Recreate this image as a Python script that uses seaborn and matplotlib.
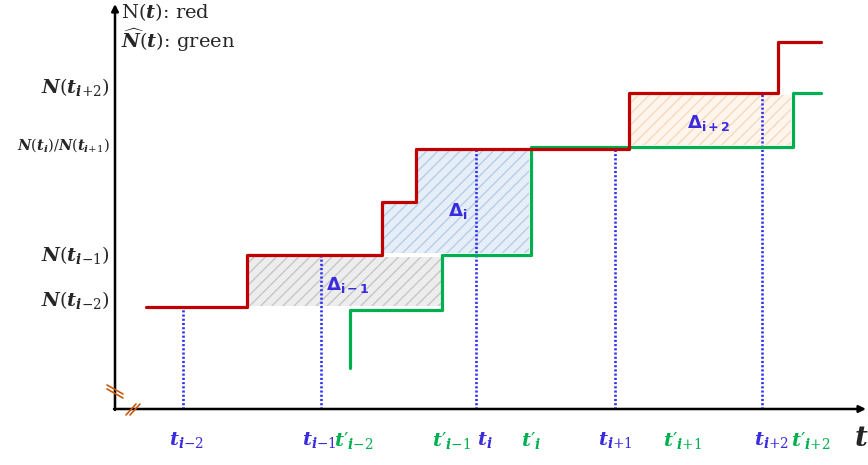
import numpy as np
import pandas as pd
import seaborn as sns
import matplotlib
matplotlib.use("Agg")
import matplotlib.pyplot as plt

sns.set_style("white")
plt.rcParams["mathtext.fontset"] = "custom"
plt.rcParams["mathtext.rm"] = "DejaVu Serif"
plt.rcParams["mathtext.it"] = "DejaVu Serif:italic:bold"
plt.rcParams["mathtext.bf"] = "DejaVu Serif:bold"
plt.rcParams["hatch.linewidth"] = 1.0

# Step functions: jump times and levels after each jump
red_x = [146, 247, 382, 416, 629, 778, 821]
red_n = [102, 154, 207, 260, 316, 367, 367]
green_x = [350, 350, 442, 531, 793, 821]
green_n = [41, 99, 154, 262, 316, 316]

# Observation times (blue dotted lines)
obs_t = [183, 321, 476, 615, 762]

# Axis labels
blue_labels = [r"$t_{i{-}2}$", r"$t_{i{-}1}$", r"$t_i$", r"$t_{i{+}1}$", r"$t_{i{+}2}$"]
blue_label_x = [186, 319, 485, 615, 771]
green_labels = [r"$t′_{i{-}2}$", r"$t′_{i{-}1}$", r"$t′_i$", r"$t′_{i{+}1}$", r"$t′_{i{+}2}$"]
green_label_x = [354, 451, 531, 682, 811]
y_labels = [r"$N(t_{i{+}2})$", r"$N(t_i)/N(t_{i{+}1})$", r"$N(t_{i{-}1})$", r"$N(t_{i{-}2})$"]
y_label_pos = [322, 264, 154, 109]
y_label_size = [14, 10.5, 14, 14]

RED = "#C00000"
GREEN = "#00B050"
BLUE = "#3A2BDD"
DOT_BLUE = "#3030F5"
BREAK = "#C55A11"

fig = plt.figure(figsize=(8.68, 4.65), dpi=100)
ax = fig.add_axes([0, 0, 1, 1])
ax.set_xlim(0, 868)
ax.set_ylim(-56, 409)
ax.set_axis_off()

# Shaded difference regions between the two step functions
pad = 2
ax.fill_between([red_x[1] + pad, green_x[2]], red_n[0] + pad - 1, red_n[1] - pad,
                facecolor="#EDEDED", edgecolor="#C6C6C6", hatch="///", linewidth=0)
ax.fill_between([red_x[2] + pad, red_x[3] + pad, green_x[3] - pad],
                [red_n[2] - pad, red_n[3] - pad, red_n[3] - pad], green_n[2] + pad,
                step="post", facecolor="#E6EEF8", edgecolor="#B7CDE9", hatch="///", linewidth=0)
ax.fill_between([red_x[4] + pad, green_x[4] - pad], green_n[3] + pad, red_n[4] - pad,
                facecolor="#FEF5EC", edgecolor="#F8D9BF", hatch="///", linewidth=0)

# Dotted observation lines up to the red step
for t in obs_t:
    k = np.searchsorted(red_x, t, side="right") - 1
    ax.vlines(t, 0, red_n[k], colors=DOT_BLUE, linestyles=(0, (0.8, 0.8)), linewidth=1.9,
              zorder=2)

red_df = pd.DataFrame({"t": red_x, "n": red_n})
green_df = pd.DataFrame({"t": green_x, "n": green_n})
sns.lineplot(data=green_df, x="t", y="n", ax=ax, color=GREEN, linewidth=2.3,
             drawstyle="steps-post", estimator=None, sort=False, zorder=3)
sns.lineplot(data=red_df, x="t", y="n", ax=ax, color=RED, linewidth=2.3,
             drawstyle="steps-post", estimator=None, sort=False, zorder=4)

# Axes with arrows
ax.annotate("", xy=(115, 405), xytext=(115, -1),
            arrowprops=dict(arrowstyle="-|>", color="black", lw=1.8, mutation_scale=10,
                            shrinkA=0, shrinkB=0))
ax.annotate("", xy=(866, 0), xytext=(114, 0),
            arrowprops=dict(arrowstyle="-|>", color="black", lw=1.8, mutation_scale=10,
                            shrinkA=0, shrinkB=0))

# Axis break marks
for d in (0, 4):
    ax.plot([107, 123], [24 - d, 15 - d], color=BREAK, lw=1.2, zorder=5)
    ax.plot([126 + d, 136 + d], [-6, 5], color=BREAK, lw=1.2, zorder=5)

# Legend text
ax.text(121, 397, r"N$(t)$: red", fontsize=14, family="DejaVu Serif", va="center", ha="left")
ax.text(121, 369, r"$\widehat{N}(t)$: green", fontsize=14, family="DejaVu Serif",
        va="center", ha="left")

# Y labels
for lab, y, s in zip(y_labels, y_label_pos, y_label_size):
    ax.text(110, y, lab, fontsize=s, ha="right", va="center", family="DejaVu Serif")

# X labels
for lab, x in zip(blue_labels, blue_label_x):
    ax.text(x, -31, lab, fontsize=14, color=BLUE, ha="center", va="center")
for lab, x in zip(green_labels, green_label_x):
    ax.text(x, -31, lab, fontsize=14, color=GREEN, ha="center", va="center")
ax.text(861, -29, r"$t$", fontsize=20, ha="center", va="center")

# Region labels
ax.text(348, 124, r"$\mathbf{\Delta_{i-1}}$", fontsize=13, color=BLUE, ha="center",
        va="center", math_fontfamily="dejavusans")
ax.text(458, 198, r"$\mathbf{\Delta_{i}}$", fontsize=13, color=BLUE, ha="center",
        va="center", math_fontfamily="dejavusans")
ax.text(709, 286, r"$\mathbf{\Delta_{i+2}}$", fontsize=13, color=BLUE, ha="center",
        va="center", math_fontfamily="dejavusans")

fig.savefig("out.png", dpi=100)
